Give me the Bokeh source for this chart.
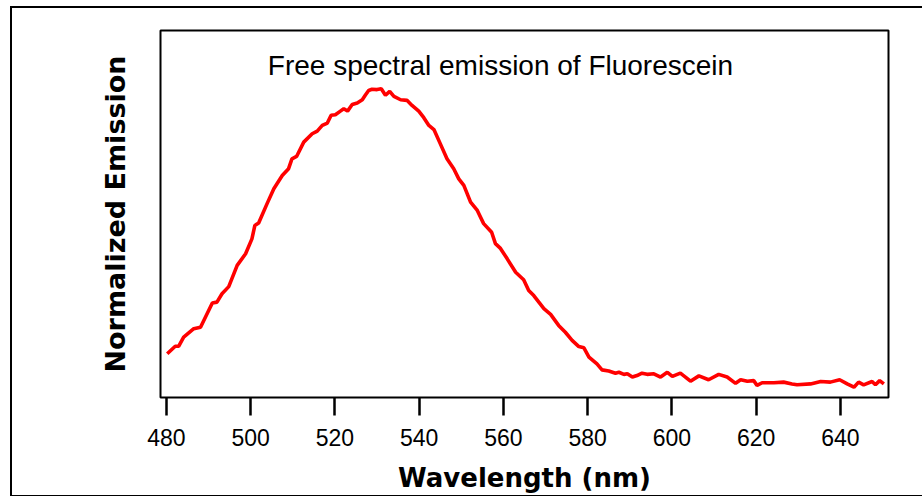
from bokeh.plotting import figure
from bokeh.models import Range1d, Label, FixedTicker, InlineStyleSheet
from bokeh.embed import file_html
from bokeh.resources import INLINE

wavelength = [480.2, 482.1, 482.9, 484.1, 486.5, 488.1, 490.9, 492.0, 493.2, 494.8,
              496.8, 498.8, 500.3, 501.0, 501.9, 503.9, 505.5, 507.5, 509.0, 509.8,
              510.9, 512.6, 514.6, 515.8, 517.0, 518.2, 519.1, 520.1, 521.3, 522.1,
              523.0, 524.1, 525.3, 526.5, 527.2, 528.0, 528.8, 530.0, 531.0, 532.0,
              533.0, 534.0, 535.6, 537.1, 538.3, 539.9, 541.1, 542.3, 543.5, 545.0,
              546.6, 548.2, 549.4, 550.6, 552.2, 553.8, 555.3, 557.2, 558.1, 559.3,
              560.9, 562.9, 564.8, 566.0, 567.2, 569.6, 571.2, 573.1, 574.7, 576.3,
              577.9, 579.1, 580.3, 582.2, 583.4, 585.0, 586.6, 587.4, 588.6, 589.4,
              590.6, 591.7, 592.9, 594.1, 595.7, 597.3, 598.9, 600.1, 602.0, 603.2,
              604.4, 606.4, 608.7, 611.1, 613.1, 615.1, 616.3, 617.9, 619.4, 620.2,
              621.4, 624.2, 626.5, 628.5, 629.7, 632.9, 635.3, 637.6, 639.8, 641.6,
              643.2, 644.3, 645.5, 647.5, 648.3, 649.3, 650.3]
emission = [0.112, 0.137, 0.137, 0.168, 0.196, 0.201, 0.282, 0.285, 0.313, 0.337,
            0.408, 0.447, 0.497, 0.542, 0.550, 0.615, 0.665, 0.709, 0.732, 0.765,
            0.773, 0.821, 0.849, 0.858, 0.877, 0.885, 0.911, 0.913, 0.925, 0.933,
            0.925, 0.947, 0.952, 0.963, 0.978, 0.994, 0.998, 0.997, 1.000, 0.978,
            0.991, 0.974, 0.963, 0.961, 0.944, 0.925, 0.903, 0.877, 0.863, 0.816,
            0.765, 0.732, 0.698, 0.676, 0.620, 0.592, 0.548, 0.519, 0.481, 0.465,
            0.430, 0.385, 0.360, 0.324, 0.307, 0.263, 0.244, 0.207, 0.184, 0.157,
            0.136, 0.132, 0.101, 0.078, 0.058, 0.054, 0.047, 0.050, 0.043, 0.045,
            0.034, 0.039, 0.047, 0.043, 0.045, 0.034, 0.050, 0.036, 0.047, 0.034,
            0.020, 0.038, 0.025, 0.043, 0.034, 0.013, 0.025, 0.020, 0.022, 0.006,
            0.015, 0.015, 0.017, 0.011, 0.008, 0.011, 0.019, 0.017, 0.025, 0.011,
            0.000, 0.017, 0.008, 0.019, 0.008, 0.022, 0.011]
x_ticks = [480, 500, 520, 540, 560, 580, 600, 620, 640]
title_text = "Free spectral emission of Fluorescein"
x_label = "Wavelength (nm)"
y_label = "Normalized Emission"

outer_border = InlineStyleSheet(css="""
:host { position: relative; }
:host::after {
  content: "";
  position: absolute;
  left: 10px; top: 6px;
  width: 1000px; height: 487px;
  border: 2.5px solid black;
  pointer-events: none;
  z-index: 10;
}
""")

p = figure(width=922, height=496, output_backend="svg", toolbar_location=None,
           x_range=Range1d(478.6, 651.4), y_range=Range1d(-0.0345, 1.195),
           min_border_left=160, min_border_right=34, min_border_top=30, min_border_bottom=99)
p.stylesheets = [outer_border]
p.xgrid.visible = False
p.ygrid.visible = False
p.background_fill_color = "white"
p.border_fill_color = "white"
p.outline_line_color = "black"
p.outline_line_width = 2
p.outline_line_alpha = 1.0

p.line(wavelength, emission, line_color="#ff0000", line_width=3.6)

xa = p.xaxis[0]
xa.ticker = FixedTicker(ticks=x_ticks)
xa.axis_line_color = None
xa.major_tick_line_color = "black"
xa.major_tick_line_width = 2.5
xa.major_tick_in = 0
xa.major_tick_out = 18
xa.minor_tick_line_color = None
xa.major_label_text_font = "Liberation Sans"
xa.major_label_text_font_size = "23px"
xa.major_label_text_color = "black"
xa.major_label_standoff = 13
xa.axis_label = x_label
xa.axis_label_text_font = "DejaVu Sans"
xa.axis_label_text_font_style = "bold"
xa.axis_label_text_font_size = "26px"
xa.axis_label_text_color = "black"
xa.axis_label_standoff = 14

ya = p.yaxis[0]
ya.axis_line_color = None
ya.major_tick_line_color = None
ya.minor_tick_line_color = None
ya.major_label_text_font_size = "0px"
ya.major_label_text_color = None
ya.axis_label = y_label
ya.axis_label_text_font = "DejaVu Sans"
ya.axis_label_text_font_style = "bold"
ya.axis_label_text_font_size = "27px"
ya.axis_label_text_color = "black"
ya.axis_label_standoff = 24

p.add_layout(Label(x=559.3, y=1.078, text=title_text, text_align="center",
                   text_baseline="middle", text_font="Liberation Sans",
                   text_font_size="28px", text_color="black"))

open("out.html", "w").write(file_html(p, INLINE))
